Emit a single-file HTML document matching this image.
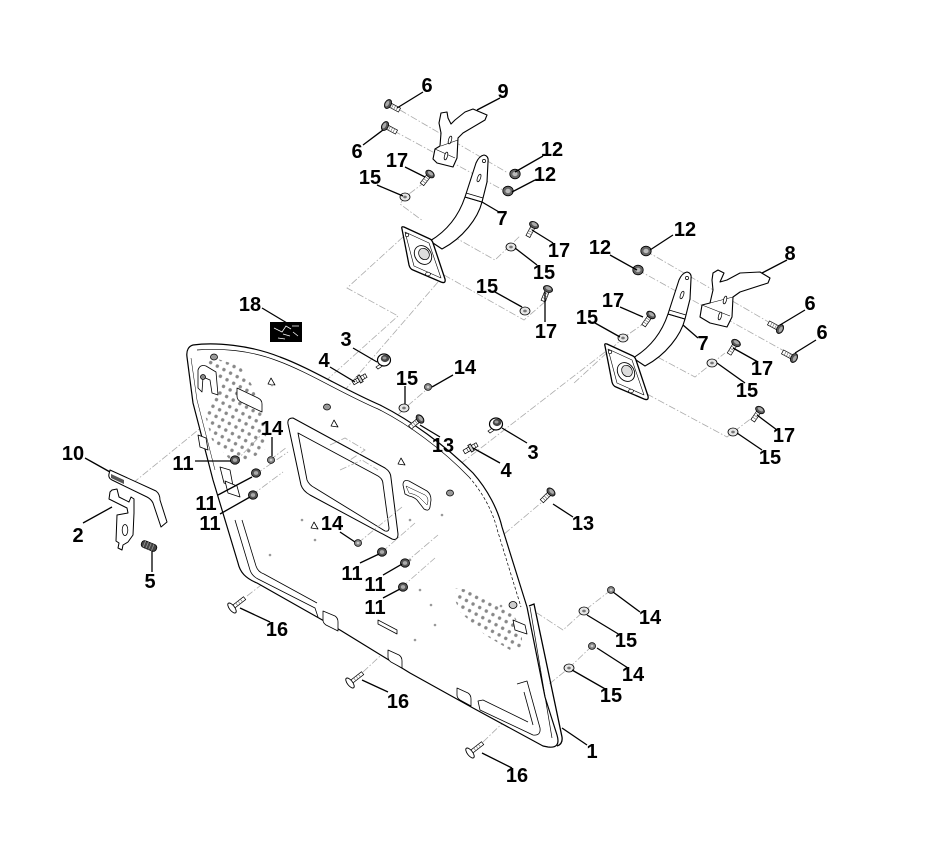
<!DOCTYPE html>
<html><head><meta charset="utf-8"><style>
html,body{margin:0;padding:0;background:#fff;}
svg{display:block;}
text{font-family:"Liberation Sans",Arial,sans-serif;font-weight:bold;font-size:20px;fill:#000;text-anchor:middle;}
</style></head><body>
<svg width="952" height="843" viewBox="0 0 952 843" xmlns="http://www.w3.org/2000/svg">
<defs>
<pattern id="dots" width="7.5" height="7.5" patternUnits="userSpaceOnUse" patternTransform="rotate(28)">
<circle cx="3.75" cy="3.75" r="1.7" fill="#888"/>
</pattern>
<g id="bolt">
<rect x="2" y="-2.2" width="11" height="4.4" fill="#fff" stroke="#000" stroke-width="0.7"/>
<path d="M5,-2.2v4.4M7.5,-2.2v4.4M10,-2.2v4.4" stroke="#666" stroke-width="0.6"/>
<ellipse cx="0" cy="0" rx="3.2" ry="4.8" fill="#555" stroke="#000" stroke-width="0.8"/>
<ellipse cx="-0.8" cy="0" rx="1.6" ry="3" fill="#aaa"/>
</g>
<g id="screw">
<rect x="1" y="-1.8" width="15" height="3.6" fill="#fff" stroke="#000" stroke-width="0.7"/>
<path d="M6,-1.8v3.6M9,-1.8v3.6M12,-1.8v3.6" stroke="#666" stroke-width="0.6"/>
<ellipse cx="0" cy="0" rx="2.6" ry="6" fill="#fff" stroke="#000" stroke-width="0.9"/>
</g>
<g id="pin">
<rect x="-7" y="-2" width="15" height="4" fill="#fff" stroke="#000" stroke-width="0.7"/>
<rect x="-1.5" y="-3.8" width="3" height="7.6" fill="#ccc" stroke="#000" stroke-width="0.8"/>
<path d="M-4.5,-2v4M4,-2v4" stroke="#000" stroke-width="0.5"/>
</g>
<g id="knob">
<path d="M-2,3 L-8,7 L-6,9 L0,5 Z" fill="#fff" stroke="#000" stroke-width="0.7"/>
<ellipse cx="0" cy="0" rx="6.5" ry="6" fill="#fff" stroke="#000" stroke-width="1.2"/>
<ellipse cx="1" cy="-1.5" rx="4.2" ry="3.6" fill="#444"/>
<ellipse cx="0.5" cy="-2" rx="2" ry="1.5" fill="#999"/>
</g>
<g id="nut12"><ellipse rx="5.2" ry="4.8" fill="#666" stroke="#000" stroke-width="0.8"/><ellipse rx="2.6" ry="2.2" fill="#bbb"/></g>
<g id="nut11"><ellipse rx="4.6" ry="4.2" fill="#555" stroke="#000" stroke-width="0.8"/><ellipse rx="2.2" ry="1.9" fill="#aaa"/></g>
<g id="nut14"><ellipse rx="3.6" ry="3.4" fill="#888" stroke="#000" stroke-width="0.7"/><ellipse rx="1.4" ry="1.2" fill="#ccc"/></g>
<g id="wash"><ellipse rx="5" ry="4" fill="#e6e6e6" stroke="#000" stroke-width="0.8"/><ellipse rx="1.8" ry="1.4" fill="#777"/></g>
<g id="b7">
<path d="M430,241 C445,232 458,218 465,197 L482,202 C478,218 463,238 442,249 Z" fill="#fff" stroke="#000" stroke-width="1.1" stroke-linejoin="round"/>
<path d="M465,197 L476,163 Q479,156 484,155 Q489,156 488,162 L487,182 L482,202 Z" fill="#fff" stroke="#000" stroke-width="1.1" stroke-linejoin="round"/>
<path d="M466,193 L483,198" stroke="#000" stroke-width="0.7" fill="none"/>
<ellipse cx="479" cy="178" rx="1.5" ry="4" transform="rotate(20 479 178)" fill="#fff" stroke="#000" stroke-width="0.7"/>
<circle cx="484" cy="161" r="1.6" fill="#fff" stroke="#000" stroke-width="0.7"/>
<path d="M402,229 Q401,226 404,227 L430,239 Q432,240 433,243 L445,279 Q446,284 441,282 L413,270 Q410,269 409,265 Z" fill="#fff" stroke="#000" stroke-width="1.3" stroke-linejoin="round"/>
<path d="M405,232 L429,243 L441,278 L414,266 Z" fill="none" stroke="#000" stroke-width="0.6" stroke-linejoin="round"/>
<ellipse cx="423" cy="255" rx="10" ry="8" transform="rotate(55 423 255)" fill="#fff" stroke="#000" stroke-width="0.9"/>
<ellipse cx="424" cy="254" rx="6" ry="5" transform="rotate(55 424 254)" fill="#ddd" stroke="#000" stroke-width="0.7"/>
<circle cx="407" cy="235" r="1.7" fill="#fff" stroke="#000" stroke-width="0.7"/>
<ellipse cx="428" cy="274" rx="2.4" ry="1.8" fill="#fff" stroke="#000" stroke-width="0.7"/>
</g>
</defs>

<g fill="none" stroke="#aaa" stroke-width="0.8" stroke-dasharray="7,2,1.5,2">
<path d="M400,110 L508,173"/>
<path d="M394,131 L503,190"/>
<path d="M425,182 L405,197 L400,204 L423,221"/>
<path d="M403,237 L347,288 L398,316 L320,386"/>
<path d="M430,240 L447,233 L495,260 L520,236"/>
<path d="M444,275 L524,320 L547,300"/>
<path d="M438,282 L338,398"/>
<path d="M646,251 L772,324"/>
<path d="M638,270 L786,352"/>
<path d="M646,322 L623,338 L573,384"/>
<path d="M605,352 L455,468"/>
<path d="M635,357 L648,352 L695,377 L725,353"/>
<path d="M647,394 L727,437 L753,417"/>
<path d="M133,483 L235,400"/>
<path d="M432,385 L405,408 L372,440"/>
<path d="M416,426 L392,447"/>
<path d="M548,497 L503,535"/>
<path d="M611,590 L584,611 L563,630 L537,613"/>
<path d="M592,646 L569,668 L548,685"/>
<path d="M247,596 L265,582"/>
<path d="M363,672 L392,645"/>
<path d="M483,742 L513,713"/>
</g>

<path d="M193,345 C215,342 250,345 280,357 C310,368 345,390 380,405 C410,420 445,445 473,473 C488,490 498,510 502,527 L527,607 L545,697 L557,735 C560,745 556,748 548,747 L543,746 L473,708 L410,673 L340,630 L257,583 C245,578 240,572 238,563 L213,480 L193,403 L187,357 C186,350 189,346 193,345 Z" fill="#fff" stroke="#000" stroke-width="1.2" stroke-linejoin="round"/>
<path d="M197,350 C220,348 250,350 278,361 C308,372 343,394 378,409 C408,424 442,449 469,477" fill="none" stroke="#000" stroke-width="0.7"/>
<path d="M469,477 C483,493 493,512 497,529 L521,607" fill="none" stroke="#000" stroke-width="0.7" stroke-dasharray="3,2"/>
<path d="M530,607 L552,738" fill="none" stroke="#000" stroke-width="0.7"/>
<path d="M529,606 L534,604 L562,737 Q563,744 557,746" fill="none" stroke="#000" stroke-width="1.3"/>
<path d="M191,358 L197,400 L215,470" fill="none" stroke="#000" stroke-width="0.5"/>

<path d="M208,356 L240,366 L252,385 L265,420 L267,448 L250,460 L232,462 L212,440 L205,415 L215,398 L222,380 L208,370 Z" fill="url(#dots)"/>
<path d="M455,588 L470,590 L492,600 L512,612 L522,630 L522,650 L510,650 L485,635 L460,612 L455,600 Z" fill="url(#dots)"/>

<g fill="#fff" stroke="#000" stroke-width="0.8" stroke-linejoin="round">
<path d="M198,370 Q200,364 206,366 L216,372 L218,395 L212,393 L210,380 L203,377 L202,392 L198,388 Z"/>
<circle cx="203" cy="377" r="2.5" fill="#888"/>
<path d="M237,388 L258,398 Q262,400 262,404 L262,412 L241,402 Q237,400 237,396 Z"/>
<path d="M198,435 L206,438 L208,450 L200,447 Z"/>
<path d="M220,467 L230,470 L233,486 L224,483 Z"/>
<path d="M225,481 L237,486 L240,497 L228,493 Z"/>
<path d="M288,424 Q287,418 293,418 L385,468 Q391,472 391,478 L398,534 Q398,541 392,539 L310,495 Q303,491 301,485 Z" stroke-width="1"/>
<path d="M298,433 L378,476 Q383,479 383,484 L389,528 Q389,532 385,531 L315,488 Q309,485 307,480 Z" stroke-width="0.9"/>
<path d="M403,485 Q403,479 409,481 L427,491 Q431,494 431,500 L430,507 Q429,512 424,509 L417,500 Q414,497 409,496 L405,494 Z"/>
<path d="M406,486 L425,495 Q428,497 428,501 L427,505 L419,497 Q415,494 409,493 Z" stroke-width="0.5"/>
<path d="M378,620 L397,630 L397,634 L378,624 Z"/>
<path d="M323,611 L335,616 Q338,618 338,622 L338,631 L326,625 Q323,623 323,620 Z"/>
<path d="M388,650 L399,655 Q402,657 402,661 L402,668 L391,662 Q388,660 388,657 Z"/>
<path d="M457,688 L468,693 Q471,695 471,699 L471,706 L460,700 Q457,698 457,695 Z"/>
<path d="M513,620 L525,625 L527,634 L515,630 Z"/>
<ellipse cx="513" cy="605" rx="4" ry="3.5" fill="#ccc"/>
<ellipse cx="214" cy="357" rx="3.5" ry="3" fill="#999"/>
<ellipse cx="327" cy="407" rx="3.5" ry="3" fill="#999"/>
<ellipse cx="450" cy="493" rx="3.5" ry="3" fill="#999"/>
</g>
<g fill="none" stroke="#000" stroke-width="0.8" stroke-linejoin="round">
<path d="M235,520 L250,570 Q252,576 258,579 L315,608 L318,617"/>
<path d="M242,520 L256,566 Q258,572 264,574 L317,603"/>
<path d="M517,684 L527,681 L540,728 Q541,736 533,735 L480,710 L478,701 L483,700 L528,722"/>
<path d="M524,692 L533,725"/>
<path d="M268,384 l3,-6 l4,7 z M331,426 l3,-6 l4,7 z M398,464 l3,-6 l4,7 z M311,528 l3,-6 l4,7 z"/>
</g>
<g fill="#999">
<circle cx="272" cy="385" r="1.3"/><circle cx="302" cy="520" r="1.3"/><circle cx="315" cy="540" r="1.3"/>
<circle cx="410" cy="560" r="1.3"/><circle cx="420" cy="590" r="1.3"/><circle cx="431" cy="605" r="1.3"/>
<circle cx="415" cy="640" r="1.3"/><circle cx="435" cy="625" r="1.3"/><circle cx="410" cy="520" r="1.3"/>
<circle cx="442" cy="515" r="1.3"/><circle cx="270" cy="555" r="1.3"/><circle cx="501" cy="606" r="1.3"/>
</g>

<g fill="none" stroke="#aaa" stroke-width="0.8" stroke-dasharray="7,2,1.5,2">
<path d="M235,462 L263,433"/>
<path d="M256,474 L288,452"/>
<path d="M252,495 L283,472"/>
<path d="M270,460 L287,447"/>
<path d="M358,543 L402,507"/>
<path d="M382,552 L415,523"/>
<path d="M405,563 L438,535"/>
<path d="M402,587 L435,558"/>
<path d="M330,445 L345,438 L365,450 L350,460 M340,470 L362,460 L378,470"/>
</g>

<use href="#b7"/>
<use href="#b7" transform="translate(203,117)"/>
<path d="M441,113 L447,112 L448,118 L451,124 L455,120 L465,112 L473,109 L487,115 L485,120 L463,133 L458,138 L457,158 L453,167 L437,163 L433,159 L435,149 L440,146 L441,133 L439,123 Z" fill="#fff" stroke="#000" stroke-width="1.1" stroke-linejoin="round"/>
<path d="M435,149 L455,158 M441,146 L458,140" stroke="#000" stroke-width="0.6" fill="none"/>
<ellipse cx="450" cy="140" rx="1.5" ry="4" transform="rotate(15 450 140)" fill="#fff" stroke="#000" stroke-width="0.7"/>
<ellipse cx="446" cy="156" rx="1.5" ry="4" transform="rotate(15 446 156)" fill="#fff" stroke="#000" stroke-width="0.7"/>
<path d="M713,273 L718,270 L724,273 L720,282 L727,280 L740,273 L760,272 L770,278 L768,283 L740,292 L733,297 L732,317 L727,327 L710,323 L700,317 L702,305 L710,303 L713,290 L712,280 Z" fill="#fff" stroke="#000" stroke-width="1.1" stroke-linejoin="round"/>
<path d="M702,305 L730,316 M710,303 L733,297" stroke="#000" stroke-width="0.6" fill="none"/>
<ellipse cx="725" cy="300" rx="1.5" ry="4" transform="rotate(15 725 300)" fill="#fff" stroke="#000" stroke-width="0.7"/>
<ellipse cx="720" cy="316" rx="1.5" ry="4" transform="rotate(15 720 316)" fill="#fff" stroke="#000" stroke-width="0.7"/>

<path d="M110,470 L156,491 Q160,494 160,500 L167,522 L161,527 L153,503 Q151,499 147,497 L112,480 Q108,478 109,474 Z" fill="#fff" stroke="#000" stroke-width="1" stroke-linejoin="round"/>
<path d="M111,474 L124,480 L124,484 L111,478 Z" fill="#555"/>
<path d="M112,490 L117,489 L119,497 L129,502 L131,497 L134,499 L134,513 L133,535 L128,542 L123,545 L122,550 L118,548 L119,543 L116,541 L117,515 L128,513 L127,508 L109,499 L110,492 Z" fill="#fff" stroke="#000" stroke-width="1" stroke-linejoin="round"/>
<ellipse cx="125" cy="530" rx="2.8" ry="5.5" fill="#fff" stroke="#000" stroke-width="0.8"/>
<g transform="translate(149,546) rotate(22)">
<rect x="-8" y="-3.5" width="16" height="7" rx="3" fill="#444" stroke="#000" stroke-width="0.8"/>
<path d="M-5,-3.5v7M-2,-3.5v7M1,-3.5v7M4,-3.5v7" stroke="#999" stroke-width="0.8"/>
</g>

<rect x="270" y="322" width="32" height="20" fill="#000"/>
<path d="M274,328 L282,332 L286,326 L291,329 M283,334 L290,336 M278,338 L285,339 M292,326 L299,326 M293,332 L298,336" stroke="#fff" stroke-width="0.8" fill="none"/>

<use href="#bolt" transform="translate(388,104) rotate(28)"/>
<use href="#bolt" transform="translate(385,126) rotate(28)"/>
<use href="#bolt" transform="translate(780,329) rotate(208)"/>
<use href="#bolt" transform="translate(794,358) rotate(208)"/>
<use href="#bolt" transform="translate(430,174) rotate(128)"/>
<use href="#bolt" transform="translate(534,225) rotate(118)"/>
<use href="#bolt" transform="translate(548,289) rotate(112)"/>
<use href="#bolt" transform="translate(651,315) rotate(125)"/>
<use href="#bolt" transform="translate(736,343) rotate(122)"/>
<use href="#bolt" transform="translate(760,410) rotate(124)"/>
<use href="#bolt" transform="translate(420,419) rotate(140)"/>
<use href="#bolt" transform="translate(551,492) rotate(135)"/>
<use href="#pin" transform="translate(360,379) rotate(150)"/>
<use href="#pin" transform="translate(471,448) rotate(150)"/>
<use href="#knob" transform="translate(384,360)"/>
<use href="#knob" transform="translate(496,424)"/>
<use href="#screw" transform="translate(232,608) rotate(-38)"/>
<use href="#screw" transform="translate(350,683) rotate(-38)"/>
<use href="#screw" transform="translate(470,753) rotate(-38)"/>
<use href="#nut12" transform="translate(515,174)"/>
<use href="#nut12" transform="translate(508,191)"/>
<use href="#nut12" transform="translate(646,251)"/>
<use href="#nut12" transform="translate(638,270)"/>
<use href="#nut11" transform="translate(235,460)"/>
<use href="#nut11" transform="translate(256,473)"/>
<use href="#nut11" transform="translate(253,495)"/>
<use href="#nut11" transform="translate(382,552)"/>
<use href="#nut11" transform="translate(405,563)"/>
<use href="#nut11" transform="translate(403,587)"/>
<use href="#nut14" transform="translate(271,460)"/>
<use href="#nut14" transform="translate(428,387)"/>
<use href="#nut14" transform="translate(358,543)"/>
<use href="#nut14" transform="translate(611,590)"/>
<use href="#nut14" transform="translate(592,646)"/>
<use href="#wash" transform="translate(405,197)"/>
<use href="#wash" transform="translate(511,247)"/>
<use href="#wash" transform="translate(525,311)"/>
<use href="#wash" transform="translate(623,338)"/>
<use href="#wash" transform="translate(712,363)"/>
<use href="#wash" transform="translate(733,432)"/>
<use href="#wash" transform="translate(404,408)"/>
<use href="#wash" transform="translate(584,611)"/>
<use href="#wash" transform="translate(569,668)"/>

<g stroke="#000" stroke-width="1.3" fill="none">
<path d="M423,92 L397,108"/><path d="M500,98 L477,110"/><path d="M363,145 L383,130"/>
<path d="M405,167 L425,177"/><path d="M377,185 L403,196"/><path d="M543,156 L515,172"/>
<path d="M535,180 L512,192"/><path d="M499,212 L482,202"/><path d="M553,243 L532,230"/>
<path d="M537,265 L515,248"/><path d="M495,292 L522,307"/><path d="M545,322 L545,292"/>
<path d="M673,235 L650,250"/><path d="M610,255 L637,270"/><path d="M787,260 L762,273"/>
<path d="M620,307 L643,317"/><path d="M595,323 L620,337"/><path d="M805,310 L780,325"/>
<path d="M698,338 L683,325"/><path d="M816,340 L795,353"/><path d="M758,362 L733,348"/>
<path d="M745,383 L717,363"/><path d="M777,430 L757,415"/><path d="M762,450 L737,433"/>
<path d="M353,348 L377,362"/><path d="M330,367 L355,382"/><path d="M405,386 L405,404"/>
<path d="M453,375 L432,387"/><path d="M440,437 L420,425"/><path d="M527,443 L502,428"/>
<path d="M500,463 L473,448"/><path d="M272,437 L272,456"/><path d="M195,461 L231,461"/>
<path d="M218,495 L252,477"/><path d="M220,514 L250,497"/><path d="M340,532 L355,542"/>
<path d="M360,563 L379,554"/><path d="M383,575 L402,564"/><path d="M383,598 L400,589"/>
<path d="M270,622 L240,608"/><path d="M388,692 L362,680"/><path d="M640,612 L613,592"/>
<path d="M620,635 L587,615"/><path d="M628,668 L597,648"/><path d="M607,690 L572,670"/>
<path d="M587,745 L562,728"/><path d="M512,768 L482,753"/><path d="M573,517 L553,504"/>
<path d="M262,308 L287,323"/><path d="M85,458 L110,472"/><path d="M83,523 L112,507"/>
<path d="M152,572 L152,551"/>
</g>

<text x="427" y="92">6</text>
<text x="503" y="98">9</text>
<text x="357" y="158">6</text>
<text x="397" y="167">17</text>
<text x="370" y="184">15</text>
<text x="552" y="156">12</text>
<text x="545" y="181">12</text>
<text x="502" y="225">7</text>
<text x="559" y="257">17</text>
<text x="544" y="279">15</text>
<text x="487" y="293">15</text>
<text x="546" y="338">17</text>
<text x="685" y="236">12</text>
<text x="600" y="254">12</text>
<text x="790" y="260">8</text>
<text x="613" y="307">17</text>
<text x="587" y="324">15</text>
<text x="810" y="310">6</text>
<text x="703" y="350">7</text>
<text x="822" y="339">6</text>
<text x="762" y="375">17</text>
<text x="747" y="397">15</text>
<text x="784" y="442">17</text>
<text x="770" y="464">15</text>
<text x="250" y="311">18</text>
<text x="346" y="346">3</text>
<text x="324" y="367">4</text>
<text x="407" y="385">15</text>
<text x="465" y="374">14</text>
<text x="443" y="452">13</text>
<text x="533" y="459">3</text>
<text x="506" y="477">4</text>
<text x="272" y="435">14</text>
<text x="183" y="470">11</text>
<text x="206" y="510">11</text>
<text x="210" y="530">11</text>
<text x="332" y="530">14</text>
<text x="352" y="580">11</text>
<text x="375" y="591">11</text>
<text x="375" y="614">11</text>
<text x="277" y="636">16</text>
<text x="398" y="708">16</text>
<text x="650" y="624">14</text>
<text x="626" y="647">15</text>
<text x="633" y="681">14</text>
<text x="611" y="702">15</text>
<text x="592" y="758">1</text>
<text x="517" y="782">16</text>
<text x="73" y="460">10</text>
<text x="78" y="542">2</text>
<text x="150" y="588">5</text>
<text x="583" y="530">13</text>
</svg>
</body></html>
